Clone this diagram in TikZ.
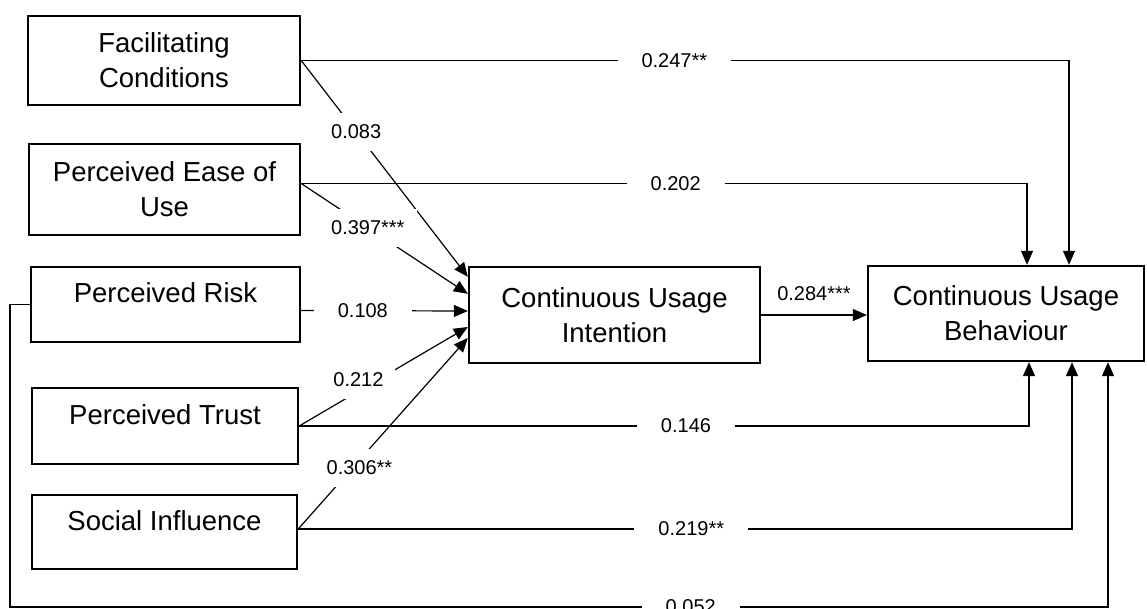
\documentclass[tikz,border=0pt]{standalone}
\usepackage{fontspec}
\setmainfont{Liberation Sans}
\usetikzlibrary{arrows.meta, positioning, calc}

\begin{document}
\begin{tikzpicture}[
		x=1pt, y=-1pt,
		box/.style={draw, line width=2.4pt, align=center, inner sep=0pt, font=\fontsize{27.5}{35}\selectfont},
		oneline/.style={text depth=23pt},
		arr/.style={-{Triangle[length=14pt, width=12pt]}, line width=1.2pt},
		num/.style={font=\fontsize{20}{24}\selectfont},
		lbl/.style={num, fill=white, inner xsep=24pt, inner ysep=6pt},
		dlbl/.style={num, fill=white, inner sep=12pt}
	]
	\useasboundingbox (0,0) rectangle (1147,608);
	% constructs
	\node[box, minimum width=272pt, minimum height=89pt] (fc) at (164,60.5) {Facilitating\\Conditions};
	\node[box, minimum width=271pt, minimum height=91pt] (peou) at (164.5,189.5) {Perceived Ease of\\Use};
	\node[box, oneline, minimum width=269pt, minimum height=75pt] (pr) at (165.5,304.5) {Perceived Risk};
	\node[box, oneline, minimum width=266pt, minimum height=76pt] (pt) at (165,426) {Perceived Trust};
	\node[box, oneline, minimum width=265pt, minimum height=74pt] (si) at (164.5,532) {Social Influence};
	\node[box, minimum width=291pt, minimum height=96pt] (cui) at (614.5,315) {Continuous Usage\\Intention};
	\node[box, minimum width=276pt, minimum height=95pt] (cub) at (1006,313.5) {Continuous Usage\\Behaviour};
	\coordinate (low) at (10,607);
	% paths to intention
	\draw[arr] (fc.east) -- node[dlbl, pos=0.33] (l-fc) {0.083} ($(cui.north west)+(0,11)$);
	\draw[arr] ($(peou.east)+(0,-6)$) -- node[dlbl, pos=0.4] (l-peou) {0.397***} ($(cui.north west)+(0,28)$);
	\draw[arr] ($(pr.east)+(0,6)$) -- node[lbl, pos=0.37] (l-pr) {0.108} ($(cui.west)+(0,-4)$);
	\draw[arr] (pt.east) -- node[dlbl, pos=0.47, xshift=-20pt] (l-pt) {0.212} ($(cui.west)+(0,12)$);
	\draw[arr] ($(si.east)+(0,-3)$) -- node[dlbl, pos=0.32, xshift=7pt] (l-si) {0.306**} ($(cui.west)+(0,23)$);
	% paths to behaviour
	\draw[arr] (fc.east) -| node[lbl, pos=0.243] (m-fc) {0.247**} ($(cub.north)+(63,0)$);
	\draw[arr] ($(peou.east)+(0,-6)$) -| node[lbl, pos=0.258] (m-peou) {0.202} ($(cub.north)+(21,0)$);
	\draw[arr] (pt.east) -| node[lbl, pos=0.265] (m-pt) {0.146} ($(cub.south)+(23,0)$);
	\draw[arr] ($(si.east)+(0,-3)$) -| node[lbl, pos=0.254] (m-si) {0.219**} ($(cub.south)+(66,0)$);
	\draw[arr] (pr.west) -| (low) -| node[lbl, pos=0.31] (m-pr) {0.052} ($(cub.south)+(102,0)$);
	\draw[arr] (cui.east) -- node[num, above=10pt] (m-cui) {0.284***} (cui.east -| cub.west);
\end{tikzpicture}
\end{document}
